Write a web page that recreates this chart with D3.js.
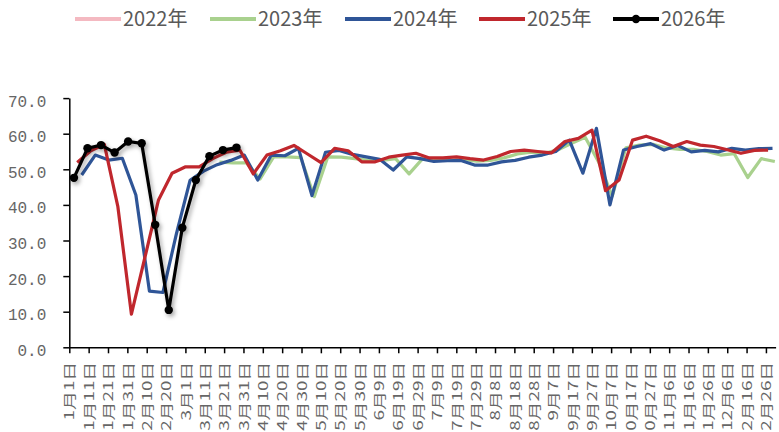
<!DOCTYPE html>
<html><head><meta charset="utf-8">
<script src="https://cdn.jsdelivr.net/npm/d3@7"></script>
<style>body{margin:0;background:#fff}svg{display:block}</style>
</head><body>
<svg id="chart" width="779" height="432"></svg>
<script>
// ---- data ----
const seriesNames = ["2022年", "2023年", "2024年", "2025年", "2026年"];
const seriesColors = ["#F4B9C1", "#A9D18E", "#2F5597", "#C0272D", "#000000"];
// first weekly observation (day of year, axis calendar starts 1月1日) for each series
const firstDay2022 = 0;
const firstDay2023 = 77.6;
const firstDay2024 = 6.4;
const firstDay2025 = 4.1;
const firstDay2026 = 2.4;
const values2022 = [];
const values2023 = [52.0, 51.8, 51.8, 47.3, 53.5, 53.5, 53.3, 42.3, 53.5, 53.4,
  53.0, 52.5, 52.5, 53.0, 48.7, 53.0, 52.5, 52.5, 52.8, 52.3,
  52.5, 53.2, 54.3, 54.8, 54.5, 55.5, 57.3, 59.0, 52.0, 42.5,
  56.0, 56.8, 57.0, 56.0, 55.6, 55.6, 55.0, 54.0, 54.4, 47.7,
  53.0, 52.2];
const values2024 = [48.4, 54.0, 52.6, 53.1, 42.8, 15.8, 15.4, 32.0, 46.9, 49.5,
  51.3, 52.5, 54.0, 47.0, 54.0, 53.8, 55.9, 42.6, 54.8, 55.3,
  54.2, 53.5, 52.8, 49.8, 53.5, 53.0, 52.2, 52.4, 52.5, 51.2,
  51.2, 52.1, 52.5, 53.4, 54.0, 55.0, 58.2, 48.9, 61.5, 40.0,
  55.4, 56.4, 57.2, 55.4, 56.7, 54.9, 55.3, 54.9, 55.9, 55.4,
  55.8, 55.9];
const values2025 = [51.9, 55.2, 57.0, 39.5, 9.3, 25.3, 41.4, 48.9, 50.7, 50.7,
  53.0, 54.8, 55.4, 48.7, 54.0, 55.2, 56.7, 54.3, 51.9, 55.9,
  55.2, 52.1, 52.1, 53.4, 54.0, 54.5, 53.2, 53.2, 53.5, 53.0,
  52.6, 53.6, 55.0, 55.4, 55.0, 54.6, 57.8, 58.7, 61.0, 44.0,
  47.0, 58.2, 59.3, 58.0, 56.4, 57.8, 56.8, 56.4, 55.5, 54.5,
  55.3, 55.4];
const values2026 = [47.6, 55.9, 56.8, 54.7, 57.8, 57.3, 34.4, 10.5, 33.6, 47.0,
  53.7, 55.4, 56.1];
const yTicks = [0, 10, 20, 30, 40, 50, 60, 70];
const xTickDays = d3.range(0, 361, 10);
const axisYear = 2024;

const allSeries = [
  {name: seriesNames[0], color: seriesColors[0], start: firstDay2022, values: values2022},
  {name: seriesNames[1], color: seriesColors[1], start: firstDay2023, values: values2023},
  {name: seriesNames[2], color: seriesColors[2], start: firstDay2024, values: values2024},
  {name: seriesNames[3], color: seriesColors[3], start: firstDay2025, values: values2025},
  {name: seriesNames[4], color: seriesColors[4], start: firstDay2026, values: values2026, markers: true}
];

// ---- layout ----
const svg = d3.select("#chart");
const mLeft = 69.3, mRight = 775.6, mTop = 98.1, mBottom = 347.3;
const x = d3.scaleLinear().domain([0, 365]).range([mLeft, mRight]);
const y = d3.scaleLinear().domain([0, 70]).range([mBottom, mTop]);

const defs = svg.append("defs");
const f = defs.append("filter").attr("id", "shadow").attr("x", "-20%").attr("y", "-20%").attr("width", "140%").attr("height", "140%");
f.append("feDropShadow").attr("dx", 2).attr("dy", 2.5).attr("stdDeviation", 2).attr("flood-color", "#000").attr("flood-opacity", 0.35);

// y axis
const yAxis = svg.append("g").attr("transform", `translate(${mLeft},0)`)
  .call(d3.axisLeft(y).tickValues(yTicks).tickSize(6).tickSizeOuter(0).tickFormat(d3.format(".1f")));
yAxis.select(".domain").attr("stroke", "#000").attr("stroke-width", 1.5);
yAxis.selectAll(".tick line").attr("stroke", "#000").attr("stroke-width", 1.5);
yAxis.selectAll(".tick text").attr("x", -23).attr("dy", "0.5em")
  .attr("fill", "#666").style("font-family", "'Liberation Mono', monospace").style("font-size", "16px");

// x axis
const base = new Date(axisYear, 0, 1);
const fmt = d => { const dt = d3.timeDay.offset(base, d); return (dt.getMonth() + 1) + "月" + dt.getDate() + "日"; };
const xAxis = svg.append("g").attr("transform", `translate(0,${mBottom})`)
  .call(d3.axisBottom(x).tickValues(xTickDays).tickSize(6).tickSizeOuter(0).tickFormat(fmt));
xAxis.select(".domain").attr("stroke", "#000").attr("stroke-width", 1.5);
xAxis.selectAll(".tick line").attr("stroke", "#000").attr("stroke-width", 1.5);
xAxis.selectAll(".tick text")
  .attr("transform", "rotate(-90) scale(1.45,1)").attr("text-anchor", "end")
  .attr("x", -10).attr("y", 0).attr("dy", "0.36em")
  .attr("fill", "#666")
  .style("font-family", "'Noto Sans CJK SC', sans-serif").style("font-size", "13px");

// lines
const line = d3.line().x(d => x(d.day)).y(d => y(d.v));
allSeries.forEach(s => {
  const pts = s.values.map((v, i) => ({day: s.start + 7 * i, v}));
  if (!pts.length) return;
  const g = svg.append("g");
  if (s.markers) g.attr("filter", "url(#shadow)");
  g.append("path").datum(pts).attr("d", line).attr("fill", "none")
    .attr("stroke", s.color).attr("stroke-width", 3.2).attr("stroke-linejoin", "round");
  if (s.markers) {
    g.selectAll("circle").data(pts).join("circle")
      .attr("cx", d => x(d.day)).attr("cy", d => y(d.v)).attr("r", 4.2).attr("fill", s.color);
  }
});

// legend
const legendX = [75, 210, 345, 479, 613];
const lg = svg.append("g");
allSeries.forEach((s, i) => {
  const g = lg.append("g").attr("transform", `translate(${legendX[i]},19)`);
  g.append("line").attr("x1", 0).attr("x2", 46).attr("stroke", s.color).attr("stroke-width", 4);
  if (s.markers) g.append("circle").attr("cx", 23).attr("r", 4.2).attr("fill", s.color);
  g.append("text").attr("x", 48).attr("dy", "0.36em").text(s.name)
    .attr("fill", "#595959")
    .style("font-family", "'Liberation Sans Narrow', 'Noto Sans CJK SC', sans-serif").style("font-size", "20px");
});
</script>
</body></html>
